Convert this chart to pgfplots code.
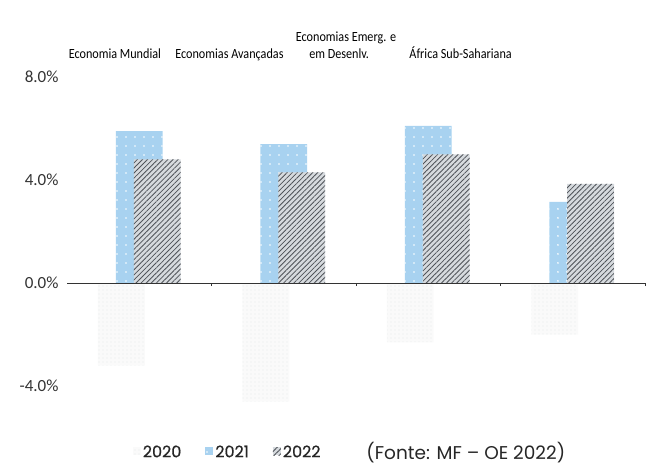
\documentclass[border=0pt]{standalone}
\usepackage{pgfplots}
\pgfplotsset{compat=1.18}
\usetikzlibrary{patterns.meta}
\usepackage{fontspec}
\setmainfont{Carlito}
\newfontfamily\condfont[FakeStretch=0.87]{Carlito}
\newfontfamily\gothic{Poppins}
\newfontfamily\gothicb[FakeBold=0.6]{Poppins}
\definecolor{blue21}{RGB}{168,210,240}
\definecolor{gray22}{RGB}{214,218,222}
\definecolor{hatch}{RGB}{78,82,88}
\definecolor{dot20}{RGB}{200,202,205}

\begin{document}
\begin{tikzpicture}
\begin{axis}[
  scale only axis, width=578pt, height=335pt,
  xmin=-0.5, xmax=3.5, ymin=-5, ymax=8,
  axis x line=middle, axis y line=left,
  axis on top,
  x axis line style={-, black!80, line width=0.9pt},
  y axis line style={draw=none},
  xtick={-0.5,0.5,1.5,2.5,3.5}, xticklabels={},
  ytick={-4,0,4,8}, ytick style={draw=none},
  xtick style={black!80, line width=0.6pt},
  tick align=outside, major tick length=3pt,
  /pgf/number format/assume math mode=true,
  yticklabel={\pgfmathprintnumber[fixed,fixed zerofill,precision=1]{\tick}\%},
  yticklabel style={font=\fontsize{17}{17}\selectfont, text=black!80, xshift=-2pt},
  ybar, bar width=0.324,
  clip=false,
  legend image code/.code={\path[#1, draw=none] (0pt,-3pt) rectangle (8pt,5pt);},
  legend style={at={(0.278,-0.12)}, anchor=center, legend columns=3, draw=none,
    font=\gothicb\fontsize{16}{16}\selectfont, text=black!85,
    /tikz/every even column/.append style={column sep=22pt}},
]
\addplot[bar shift=-0.124, draw=none, fill=gray!4,
  postaction={pattern={Dots[distance=4pt, radius=0.45pt]}, pattern color=dot20}]
  coordinates {(0,-3.2) (1,-4.6) (2,-2.3) (3,-2.0)};
\addlegendentry{2020}
\addplot[bar shift=0, draw=none, fill=blue21,
  postaction={pattern={Dots[distance=9pt, radius=0.9pt]}, pattern color=white}]
  coordinates {(0,5.9) (1,5.4) (2,6.1) (3,3.15)};
\addlegendentry{2021}
\addplot[bar shift=0.124, draw=none, fill=gray22,
  postaction={pattern={Lines[angle=45, distance=3.6pt, line width=0.8pt]}, pattern color=hatch}]
  coordinates {(0,4.8) (1,4.3) (2,5.0) (3,3.85)};
\addlegendentry{2022}

\node[anchor=base, font=\condfont\fontsize{14}{14}\selectfont] at (axis cs:-0.169,8.73) {Economia Mundial};
\node[anchor=base, font=\condfont\fontsize{14}{14}\selectfont] at (axis cs:0.624,8.73) {Economias Avançadas};
\node[anchor=base, font=\condfont\fontsize{14}{14}\selectfont] at (axis cs:1.431,9.38) {Economias Emerg. e};
\node[anchor=base, font=\condfont\fontsize{14}{14}\selectfont] at (axis cs:1.383,8.73) {em Desenlv.};
\node[anchor=base, font=\condfont\fontsize{14}{14}\selectfont] at (axis cs:2.224,8.73) {África Sub-Sahariana};
\node[anchor=center, font=\gothic\fontsize{18.5}{18.5}\selectfont, text=black!85] at (axis description cs:0.69,-0.12) {(Fonte: MF – OE 2022)};
\coordinate (bl) at (rel axis cs:-0.116,-0.173);
\coordinate (tr) at (rel axis cs:1.0035,1.2299);
\end{axis}
\pgfresetboundingbox
\path[use as bounding box] (bl) rectangle (tr);
\end{tikzpicture}
\end{document}
